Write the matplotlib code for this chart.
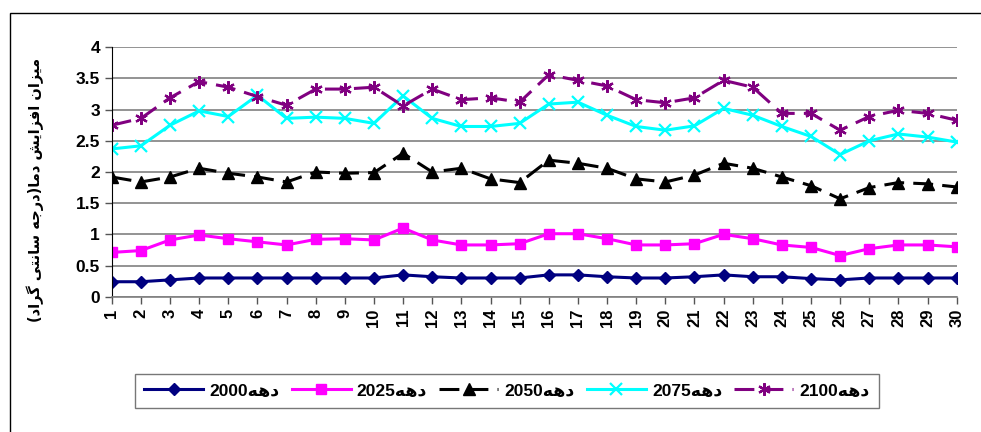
import matplotlib.pyplot as plt
from matplotlib.patches import Rectangle

decades = list(range(1, 31))

d2000 = [0.24, 0.24, 0.27, 0.30, 0.30, 0.30, 0.30, 0.30, 0.30, 0.30,
         0.35, 0.32, 0.30, 0.30, 0.30, 0.35, 0.35, 0.32, 0.30, 0.30,
         0.32, 0.35, 0.32, 0.32, 0.29, 0.27, 0.30, 0.30, 0.30, 0.30]
d2025 = [0.71, 0.74, 0.91, 0.99, 0.93, 0.88, 0.83, 0.92, 0.93, 0.91,
         1.10, 0.91, 0.83, 0.83, 0.85, 1.01, 1.01, 0.93, 0.83, 0.83,
         0.85, 1.00, 0.93, 0.83, 0.79, 0.66, 0.77, 0.83, 0.83, 0.80]
d2050 = [1.92, 1.84, 1.92, 2.06, 1.98, 1.92, 1.84, 2.00, 1.98, 1.99,
         2.30, 2.00, 2.06, 1.89, 1.83, 2.19, 2.14, 2.06, 1.89, 1.84,
         1.95, 2.14, 2.06, 1.92, 1.78, 1.57, 1.75, 1.83, 1.81, 1.76]
d2075 = [2.37, 2.42, 2.75, 2.98, 2.89, 3.23, 2.86, 2.88, 2.86, 2.78,
         3.22, 2.86, 2.73, 2.73, 2.78, 3.09, 3.12, 2.91, 2.73, 2.67,
         2.74, 3.02, 2.91, 2.73, 2.57, 2.28, 2.50, 2.61, 2.56, 2.48]
d2100 = [2.75, 2.86, 3.19, 3.45, 3.36, 3.21, 3.07, 3.33, 3.33, 3.36,
         3.06, 3.33, 3.16, 3.19, 3.12, 3.56, 3.47, 3.38, 3.16, 3.11,
         3.19, 3.47, 3.36, 2.94, 2.94, 2.67, 2.89, 2.99, 2.94, 2.83]

# Arabic script written in visual order with presentation forms (no bidi/shaping in matplotlib)
dahe = '\uFEEA\uFEEB\uFEA9'
labels = [y + dahe for y in ['2000', '2025', '2050', '2075', '2100']]
ylabel = ('(' + '\uFEA9\uFE8D\uFEAE\uFB94' + ' ' + '\uFBFD\uFE98\uFEE7\uFE8E\uFEB3' + ' '
          + '\uFEEA\uFE9F\uFEAD\uFEA9' + ')' + '\uFE8E\uFEE3\uFEA9' + ' '
          + '\uFEB6\uFBFE\uFE8D\uFEB0\uFED3\uFE8D' + ' ' + '\uFEE5\uFE8D\uFEB0\uFBFF\uFEE3')

fonts = ['Liberation Sans', 'DejaVu Sans']
plt.rcParams['font.family'] = fonts

fig = plt.figure(figsize=(9.81, 4.32), dpi=100)
ax = fig.add_axes([0.1139, 0.3132, 0.9752 - 0.1139, 0.8905 - 0.3132])

lw = 2.2
ax.plot(decades, d2000, color='#000080', lw=lw, marker='D', ms=6.5, label=labels[0])
ax.plot(decades, d2025, color='#FF00FF', lw=lw, marker='s', ms=7.5, label=labels[1])
ax.plot(decades, d2050, color='black', lw=lw, marker='^', ms=9, dashes=(6.5, 3), label=labels[2])
ax.plot(decades, d2075, color='#00FFFF', lw=lw, marker='x', ms=8, mew=1.6, label=labels[3])
ax.plot(decades, d2100, color='#800080', lw=lw, marker=(6, 2, 0), ms=9, mew=1.6,
        dashes=(6.5, 3), label=labels[4])

ax.set_xlim(1, 30)
ax.set_ylim(0, 4)
ax.set_xticks(decades)
ax.set_xticklabels([str(d) for d in decades], rotation=90, fontweight='bold', fontsize=12)
ax.set_yticks([0, 0.5, 1, 1.5, 2, 2.5, 3, 3.5, 4])
ax.set_yticklabels(['0', '0.5', '1', '1.5', '2', '2.5', '3', '3.5', '4'],
                   fontweight='bold', fontsize=12.5)
ax.tick_params(length=5, width=1, color='#555555')
ax.grid(axis='y', color='#808080', lw=1.2)
ax.set_axisbelow(True)
for s in ['top', 'right']:
    ax.spines[s].set_visible(False)
ax.spines['left'].set_color('black')
ax.spines['bottom'].set_color('#808080')
ax.spines['bottom'].set_linewidth(1.2)

fig.text(35 / 981, 1 - 190 / 432, ylabel, rotation=90, ha='center', va='center',
         fontsize=10.5, fontweight='bold', family=['DejaVu Sans'])

leg = fig.legend(loc='center', bbox_to_anchor=(507 / 981, 1 - 391 / 432), ncol=5,
                 fancybox=False, edgecolor='#555555', handlelength=3.4, columnspacing=0.7,
                 handletextpad=0.35, borderpad=0.55, prop={'size': 12.5, 'weight': 'bold'})
leg.get_frame().set_linewidth(1.0)

fig.patches.append(Rectangle((10 / 981, -0.1), 1.2, 1 - 13 / 432 + 0.1, transform=fig.transFigure,
                             fill=False, edgecolor='black', lw=1.0))

fig.savefig('out.png', dpi=100)
